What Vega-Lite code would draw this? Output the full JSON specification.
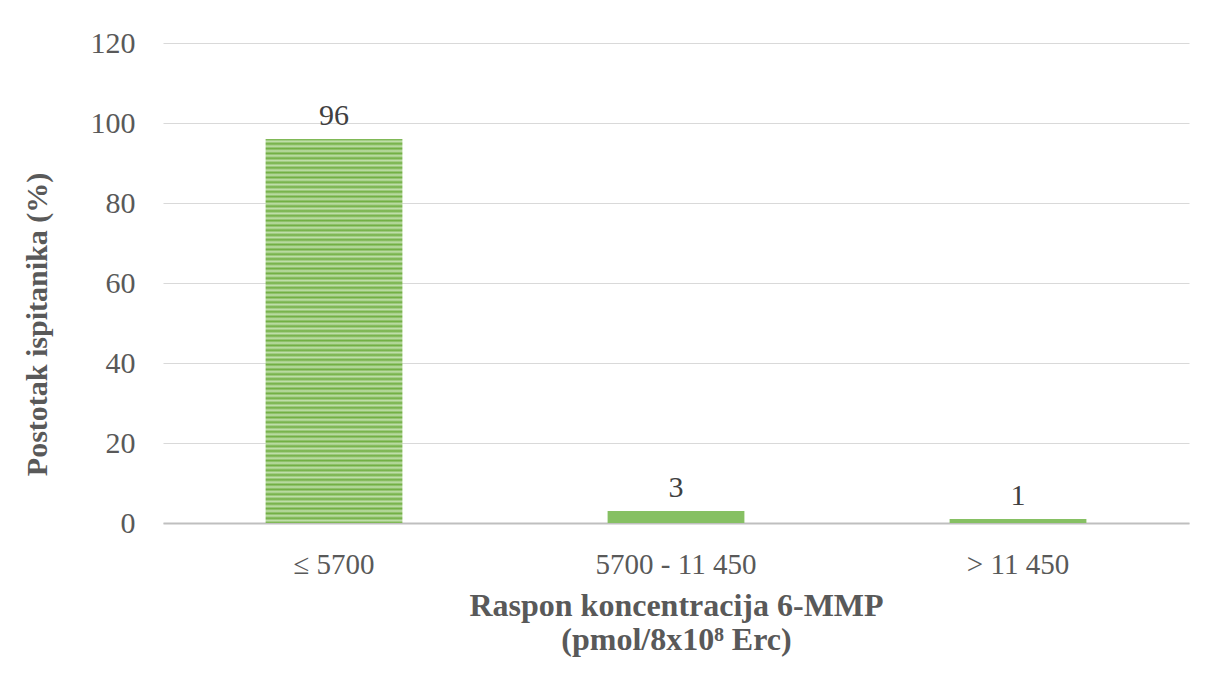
{
  "$schema": "https://vega.github.io/schema/vega-lite/v6.json",
  "width": 1026,
  "height": 480,
  "autosize": {"type": "none"},
  "padding": {"left": 163, "top": 43, "right": 17, "bottom": 165},
  "background": "white",
  "config": {"view": {"stroke": null}, "font": "Liberation Serif"},
  "data": {"values": [
    {"range": "≤ 5700", "pct": 96},
    {"range": "5700 - 11 450", "pct": 3},
    {"range": "> 11 450", "pct": 1}
  ]},
  "encoding": {
    "x": {
      "field": "range", "type": "nominal", "sort": null,
      "scale": {"domain": ["≤ 5700", "5700 - 11 450", "> 11 450"], "paddingInner": 0.6, "paddingOuter": 0.3},
      "axis": {
        "labelAngle": 0, "labelFontSize": 29, "labelColor": "#595959", "labelPadding": 27,
        "domainColor": "#BFBFBF", "domainWidth": 2, "ticks": false, "grid": false,
        "title": ["Raspon koncentracija 6-MMP", "(pmol/8x10⁸ Erc)"],
        "titleFontSize": 32, "titleFontWeight": "bold", "titleColor": "#595959",
        "titleLineHeight": 34, "titlePadding": 11
      }
    },
    "y": {
      "field": "pct", "type": "quantitative",
      "scale": {"domain": [0, 120]},
      "axis": {
        "values": [0, 20, 40, 60, 80, 100, 120],
        "labelFontSize": 30, "labelColor": "#595959", "labelPadding": 28,
        "domain": false, "ticks": false, "gridColor": "#D9D9D9", "gridWidth": 1,
        "title": "Postotak ispitanika (%)", "titleFontSize": 30, "titleFontWeight": "bold",
        "titleColor": "#595959", "titleX": -126, "titleY": 281, "titleBaseline": "middle", "titleAngle": -90
      }
    }
  },
  "layer": [
    {
      "transform": [{"filter": "datum.pct > 50"}],
      "mark": {
        "type": "bar",
        "fill": {
          "gradient": "linear", "x1": 0, "y1": 0, "x2": 0, "y2": 1,
          "stops": [
            {"offset": 0, "color": "#6FAE40"}, {"offset": 0.00625, "color": "#C2E0AD"},
            {"offset": 0.0125, "color": "#6FAE40"}, {"offset": 0.01875, "color": "#C2E0AD"},
            {"offset": 0.025, "color": "#6FAE40"}, {"offset": 0.03125, "color": "#C2E0AD"},
            {"offset": 0.0375, "color": "#6FAE40"}, {"offset": 0.04375, "color": "#C2E0AD"},
            {"offset": 0.05, "color": "#6FAE40"}, {"offset": 0.05625, "color": "#C2E0AD"},
            {"offset": 0.0625, "color": "#6FAE40"}, {"offset": 0.06875, "color": "#C2E0AD"},
            {"offset": 0.075, "color": "#6FAE40"}, {"offset": 0.08125, "color": "#C2E0AD"},
            {"offset": 0.0875, "color": "#6FAE40"}, {"offset": 0.09375, "color": "#C2E0AD"},
            {"offset": 0.1, "color": "#6FAE40"}, {"offset": 0.10625, "color": "#C2E0AD"},
            {"offset": 0.1125, "color": "#6FAE40"}, {"offset": 0.11875, "color": "#C2E0AD"},
            {"offset": 0.125, "color": "#6FAE40"}, {"offset": 0.13125, "color": "#C2E0AD"},
            {"offset": 0.1375, "color": "#6FAE40"}, {"offset": 0.14375, "color": "#C2E0AD"},
            {"offset": 0.15, "color": "#6FAE40"}, {"offset": 0.15625, "color": "#C2E0AD"},
            {"offset": 0.1625, "color": "#6FAE40"}, {"offset": 0.16875, "color": "#C2E0AD"},
            {"offset": 0.175, "color": "#6FAE40"}, {"offset": 0.18125, "color": "#C2E0AD"},
            {"offset": 0.1875, "color": "#6FAE40"}, {"offset": 0.19375, "color": "#C2E0AD"},
            {"offset": 0.2, "color": "#6FAE40"}, {"offset": 0.20625, "color": "#C2E0AD"},
            {"offset": 0.2125, "color": "#6FAE40"}, {"offset": 0.21875, "color": "#C2E0AD"},
            {"offset": 0.225, "color": "#6FAE40"}, {"offset": 0.23125, "color": "#C2E0AD"},
            {"offset": 0.2375, "color": "#6FAE40"}, {"offset": 0.24375, "color": "#C2E0AD"},
            {"offset": 0.25, "color": "#6FAE40"}, {"offset": 0.25625, "color": "#C2E0AD"},
            {"offset": 0.2625, "color": "#6FAE40"}, {"offset": 0.26875, "color": "#C2E0AD"},
            {"offset": 0.275, "color": "#6FAE40"}, {"offset": 0.28125, "color": "#C2E0AD"},
            {"offset": 0.2875, "color": "#6FAE40"}, {"offset": 0.29375, "color": "#C2E0AD"},
            {"offset": 0.3, "color": "#6FAE40"}, {"offset": 0.30625, "color": "#C2E0AD"},
            {"offset": 0.3125, "color": "#6FAE40"}, {"offset": 0.31875, "color": "#C2E0AD"},
            {"offset": 0.325, "color": "#6FAE40"}, {"offset": 0.33125, "color": "#C2E0AD"},
            {"offset": 0.3375, "color": "#6FAE40"}, {"offset": 0.34375, "color": "#C2E0AD"},
            {"offset": 0.35, "color": "#6FAE40"}, {"offset": 0.35625, "color": "#C2E0AD"},
            {"offset": 0.3625, "color": "#6FAE40"}, {"offset": 0.36875, "color": "#C2E0AD"},
            {"offset": 0.375, "color": "#6FAE40"}, {"offset": 0.38125, "color": "#C2E0AD"},
            {"offset": 0.3875, "color": "#6FAE40"}, {"offset": 0.39375, "color": "#C2E0AD"},
            {"offset": 0.4, "color": "#6FAE40"}, {"offset": 0.40625, "color": "#C2E0AD"},
            {"offset": 0.4125, "color": "#6FAE40"}, {"offset": 0.41875, "color": "#C2E0AD"},
            {"offset": 0.425, "color": "#6FAE40"}, {"offset": 0.43125, "color": "#C2E0AD"},
            {"offset": 0.4375, "color": "#6FAE40"}, {"offset": 0.44375, "color": "#C2E0AD"},
            {"offset": 0.45, "color": "#6FAE40"}, {"offset": 0.45625, "color": "#C2E0AD"},
            {"offset": 0.4625, "color": "#6FAE40"}, {"offset": 0.46875, "color": "#C2E0AD"},
            {"offset": 0.475, "color": "#6FAE40"}, {"offset": 0.48125, "color": "#C2E0AD"},
            {"offset": 0.4875, "color": "#6FAE40"}, {"offset": 0.49375, "color": "#C2E0AD"},
            {"offset": 0.5, "color": "#6FAE40"}, {"offset": 0.50625, "color": "#C2E0AD"},
            {"offset": 0.5125, "color": "#6FAE40"}, {"offset": 0.51875, "color": "#C2E0AD"},
            {"offset": 0.525, "color": "#6FAE40"}, {"offset": 0.53125, "color": "#C2E0AD"},
            {"offset": 0.5375, "color": "#6FAE40"}, {"offset": 0.54375, "color": "#C2E0AD"},
            {"offset": 0.55, "color": "#6FAE40"}, {"offset": 0.55625, "color": "#C2E0AD"},
            {"offset": 0.5625, "color": "#6FAE40"}, {"offset": 0.56875, "color": "#C2E0AD"},
            {"offset": 0.575, "color": "#6FAE40"}, {"offset": 0.58125, "color": "#C2E0AD"},
            {"offset": 0.5875, "color": "#6FAE40"}, {"offset": 0.59375, "color": "#C2E0AD"},
            {"offset": 0.6, "color": "#6FAE40"}, {"offset": 0.60625, "color": "#C2E0AD"},
            {"offset": 0.6125, "color": "#6FAE40"}, {"offset": 0.61875, "color": "#C2E0AD"},
            {"offset": 0.625, "color": "#6FAE40"}, {"offset": 0.63125, "color": "#C2E0AD"},
            {"offset": 0.6375, "color": "#6FAE40"}, {"offset": 0.64375, "color": "#C2E0AD"},
            {"offset": 0.65, "color": "#6FAE40"}, {"offset": 0.65625, "color": "#C2E0AD"},
            {"offset": 0.6625, "color": "#6FAE40"}, {"offset": 0.66875, "color": "#C2E0AD"},
            {"offset": 0.675, "color": "#6FAE40"}, {"offset": 0.68125, "color": "#C2E0AD"},
            {"offset": 0.6875, "color": "#6FAE40"}, {"offset": 0.69375, "color": "#C2E0AD"},
            {"offset": 0.7, "color": "#6FAE40"}, {"offset": 0.70625, "color": "#C2E0AD"},
            {"offset": 0.7125, "color": "#6FAE40"}, {"offset": 0.71875, "color": "#C2E0AD"},
            {"offset": 0.725, "color": "#6FAE40"}, {"offset": 0.73125, "color": "#C2E0AD"},
            {"offset": 0.7375, "color": "#6FAE40"}, {"offset": 0.74375, "color": "#C2E0AD"},
            {"offset": 0.75, "color": "#6FAE40"}, {"offset": 0.75625, "color": "#C2E0AD"},
            {"offset": 0.7625, "color": "#6FAE40"}, {"offset": 0.76875, "color": "#C2E0AD"},
            {"offset": 0.775, "color": "#6FAE40"}, {"offset": 0.78125, "color": "#C2E0AD"},
            {"offset": 0.7875, "color": "#6FAE40"}, {"offset": 0.79375, "color": "#C2E0AD"},
            {"offset": 0.8, "color": "#6FAE40"}, {"offset": 0.80625, "color": "#C2E0AD"},
            {"offset": 0.8125, "color": "#6FAE40"}, {"offset": 0.81875, "color": "#C2E0AD"},
            {"offset": 0.825, "color": "#6FAE40"}, {"offset": 0.83125, "color": "#C2E0AD"},
            {"offset": 0.8375, "color": "#6FAE40"}, {"offset": 0.84375, "color": "#C2E0AD"},
            {"offset": 0.85, "color": "#6FAE40"}, {"offset": 0.85625, "color": "#C2E0AD"},
            {"offset": 0.8625, "color": "#6FAE40"}, {"offset": 0.86875, "color": "#C2E0AD"},
            {"offset": 0.875, "color": "#6FAE40"}, {"offset": 0.88125, "color": "#C2E0AD"},
            {"offset": 0.8875, "color": "#6FAE40"}, {"offset": 0.89375, "color": "#C2E0AD"},
            {"offset": 0.9, "color": "#6FAE40"}, {"offset": 0.90625, "color": "#C2E0AD"},
            {"offset": 0.9125, "color": "#6FAE40"}, {"offset": 0.91875, "color": "#C2E0AD"},
            {"offset": 0.925, "color": "#6FAE40"}, {"offset": 0.93125, "color": "#C2E0AD"},
            {"offset": 0.9375, "color": "#6FAE40"}, {"offset": 0.94375, "color": "#C2E0AD"},
            {"offset": 0.95, "color": "#6FAE40"}, {"offset": 0.95625, "color": "#C2E0AD"},
            {"offset": 0.9625, "color": "#6FAE40"}, {"offset": 0.96875, "color": "#C2E0AD"},
            {"offset": 0.975, "color": "#6FAE40"}, {"offset": 0.98125, "color": "#C2E0AD"},
            {"offset": 0.9875, "color": "#6FAE40"}, {"offset": 0.99375, "color": "#C2E0AD"},
            {"offset": 1, "color": "#6FAE40"}
          ]
        }
      },
      "encoding": {}
    },
    {
      "transform": [{"filter": "datum.pct <= 50"}],
      "mark": {"type": "bar", "fill": "#86C063"},
      "encoding": {}
    },
    {
      "mark": {"type": "text", "baseline": "bottom", "dy": -8, "fontSize": 30, "color": "#404040"},
      "encoding": {"text": {"field": "pct", "type": "quantitative"}}
    }
  ]
}
